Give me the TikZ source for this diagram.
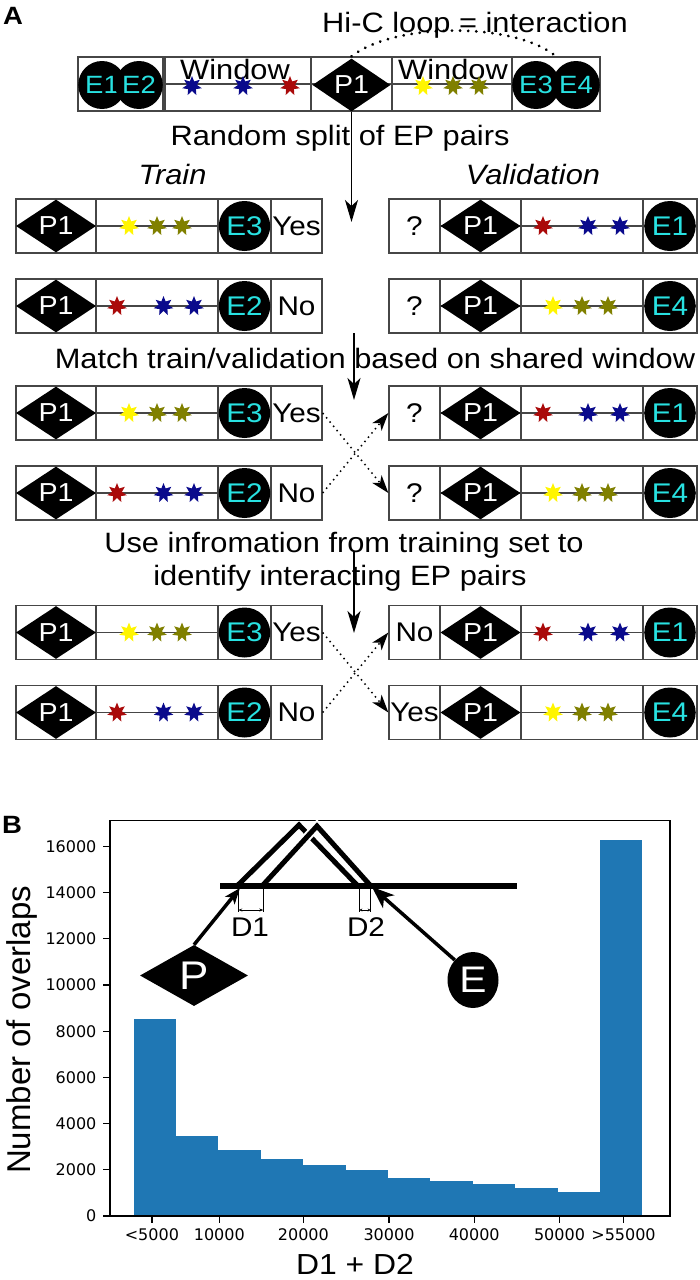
\documentclass[tikz,border=0pt]{standalone}
\usepackage{fontspec}
\setmainfont{Liberation Sans}[FakeStretch=1.1]
\newfontfamily\axisfont{Liberation Sans}
\newfontfamily\tickfont{DejaVu Sans}
\usetikzlibrary{arrows.meta,shapes.geometric}
\definecolor{enhcyan}{RGB}{40,225,225}
\definecolor{staryellow}{RGB}{255,245,0}
\definecolor{starolive}{RGB}{128,128,0}
\definecolor{starnavy}{RGB}{10,10,140}
\definecolor{starred}{RGB}{170,10,10}
\definecolor{histblue}{RGB}{31,119,180}
\definecolor{boxgray}{RGB}{70,70,70}

\begin{document}
\begin{tikzpicture}[x=1pt, y=-1pt, >=Stealth,
    cell/.style={draw=boxgray, line width=1.3pt, minimum height=54pt, inner sep=0pt},
    prom/.style={diamond, fill=black, text=white, inner sep=0pt, minimum width=80pt, minimum height=50pt, font=\fontsize{26}{26}\selectfont},
    enh/.style={ellipse, fill=black, text=enhcyan, inner sep=0pt, minimum width=48pt, minimum height=50pt, font=\fontsize{27}{27}\selectfont},
    snp/.style={star, star points=7, star point ratio=2, fill=#1, inner sep=0pt, minimum size=20pt},
    caption/.style={anchor=base, font=\fontsize{28}{30}\selectfont},
    answer/.style={font=\fontsize{27}{30}\selectfont},
    track/.style={draw=boxgray, line width=1.3pt},
    flow/.style={line width=1.3pt, -{Stealth[length=22pt,width=13pt,inset=6pt]}},
    cross/.style={line width=1.5pt, dash pattern=on 1.5pt off 4pt, -{Stealth[length=18pt,width=12pt,inset=5pt]}},
    tick/.style={font=\tickfont\fontsize{16}{16}\selectfont, inner sep=2pt}]
  \useasboundingbox (0,0) rectangle (699,1280);

  \node[font=\bfseries\fontsize{25}{25}\selectfont] (la) at (13,16) {A};
  \node[caption] (hic) at (475,32) {Hi-C loop = interaction};

  \node[cell, minimum width=85pt] (c1) at (120.5,84) {};
  \node[cell, minimum width=146pt] (c2) at (238,84) {};
  \node[cell, minimum width=81pt] (c3) at (351.5,84) {};
  \node[cell, minimum width=120pt] (c4) at (452,84) {};
  \node[cell, minimum width=88pt] (c5) at (556,84) {};
  \draw[track] (c1.west) -- (c5.east);
  \draw[line width=3pt, line cap=round, dash pattern=on 0.1pt off 8pt] (c3.north) .. controls (395,22) and (515,22) .. (c5.north);
  \node[caption] (w1) at (235,79) {Window};
  \node[caption] (w2) at (453,79) {Window};
  \foreach \x/\c [count=\k] in {192/starnavy,243/starnavy,290/starred,423/staryellow,453/starolive,479/starolive}
    \node[snp=\c] (s\k) at (\x,86) {};
  \node[enh, minimum width=45pt, minimum height=48pt, font=\fontsize{25}{25}\selectfont] (e1) at (102,85) {E1};
  \node[enh, minimum width=45pt, minimum height=48pt, font=\fontsize{25}{25}\selectfont] (e2) at (139,85) {E2};
  \node[enh, minimum width=45pt, minimum height=48pt, font=\fontsize{25}{25}\selectfont] (e3) at (536,85) {E3};
  \node[enh, minimum width=45pt, minimum height=48pt, font=\fontsize{25}{25}\selectfont] (e4) at (576,85) {E4};
  \node[prom, minimum width=78pt] (p0) at (351.5,85) {P1};

  \coordinate (a1) at (351.5,222);
  \draw[flow] (c3.south) -- (a1);
  \node[caption] (split) at (340,145) {Random split of EP pairs};
  \node[caption, font=\fontsize{28}{30}\selectfont\itshape] (train) at (172.5,184) {Train};
  \node[caption, font=\fontsize{28}{30}\selectfont\itshape] (valid) at (533,184) {Validation};

  \foreach \y [count=\r] in {226,413,632.5} {
    \node[cell, minimum width=80pt] (tap\r) at (56,\y) {};
    \node[cell, minimum width=122pt] (taw\r) at (157,\y) {};
    \node[cell, minimum width=53pt] (tae\r) at (244.5,\y) {};
    \node[cell, minimum width=51pt, answer] (tal\r) at (296.5,\y) {Yes};
    \draw[track] (tap\r.west) -- (tae\r.east);
    \node[prom] (tpa\r) at (56,\y) {P1};
    \node[snp=staryellow] (tsa\r) at (129,\y) {};
    \node[snp=starolive] (tsb\r) at (157,\y) {};
    \node[snp=starolive] (tsc\r) at (182,\y) {};
    \node[enh] (tea\r) at (244.5,\y) {E3};
  }
  \foreach \y [count=\r] in {306,493,712.5} {
    \node[cell, minimum width=80pt] (tbp\r) at (56,\y) {};
    \node[cell, minimum width=122pt] (tbw\r) at (157,\y) {};
    \node[cell, minimum width=53pt] (tbe\r) at (244.5,\y) {};
    \node[cell, minimum width=51pt, answer] (tbl\r) at (296.5,\y) {No};
    \draw[track] (tbp\r.west) -- (tbe\r.east);
    \node[prom] (tpb\r) at (56,\y) {P1};
    \node[snp=starred] (tta\r) at (117,\y) {};
    \node[snp=starnavy] (ttb\r) at (163.5,\y) {};
    \node[snp=starnavy] (ttc\r) at (194,\y) {};
    \node[enh] (teb\r) at (244.5,\y) {E2};
  }
  \foreach \y/\v [count=\r] in {226/?,413/?,632.5/No} {
    \node[cell, minimum width=51pt, answer] (val\r) at (414.5,\y) {\v};
    \node[cell, minimum width=81pt] (vap\r) at (480.5,\y) {};
    \node[cell, minimum width=122pt] (vaw\r) at (582,\y) {};
    \node[cell, minimum width=54pt] (vae\r) at (670,\y) {};
    \draw[track] (vap\r.west) -- (vae\r.east);
    \node[prom] (vpa\r) at (480.5,\y) {P1};
    \node[snp=starred] (vsa\r) at (543,\y) {};
    \node[snp=starnavy] (vsb\r) at (588,\y) {};
    \node[snp=starnavy] (vsc\r) at (620,\y) {};
    \node[enh] (vea\r) at (670,\y) {E1};
  }
  \foreach \y/\v [count=\r] in {306/?,493/?,712.5/Yes} {
    \node[cell, minimum width=51pt, answer] (vbl\r) at (414.5,\y) {\v};
    \node[cell, minimum width=81pt] (vbp\r) at (480.5,\y) {};
    \node[cell, minimum width=122pt] (vbw\r) at (582,\y) {};
    \node[cell, minimum width=54pt] (vbe\r) at (670,\y) {};
    \draw[track] (vbp\r.west) -- (vbe\r.east);
    \node[prom] (vpb\r) at (480.5,\y) {P1};
    \node[snp=staryellow] (vta\r) at (553,\y) {};
    \node[snp=starolive] (vtb\r) at (582,\y) {};
    \node[snp=starolive] (vtc\r) at (608,\y) {};
    \node[enh] (veb\r) at (670,\y) {E4};
  }

  \coordinate (m0) at (354,333);
  \coordinate (m1) at (354,400);
  \draw[flow] (m0) -- (m1);
  \node[caption] (match) at (375,368) {Match train/validation based on shared window};
  \draw[cross] (tal2.east) -- (vbl2.west);
  \draw[cross] (tbl2.east) -- (val2.west);

  \coordinate (u0) at (354,551);
  \coordinate (u1) at (354,633);
  \draw[flow] (u0) -- (u1);
  \node[caption] (use1) at (344,552) {Use infromation from training set to};
  \node[caption] (use2) at (340,585) {identify interacting EP pairs};
  \draw[cross] (tal3.east) -- (vbl3.west);
  \draw[cross] (tbl3.east) -- (val3.west);

  \node[font=\bfseries\fontsize{25}{25}\selectfont] (lb) at (12,825) {B};
  \foreach \h [count=\i from 0] in {8515,3476,2843,2454,2222,1991,1659,1500,1371,1198,1053,16277}
    \fill[histblue] ({133.5+42.4*\i},1216) rectangle ({175.9+42.4*\i},{1216-0.0231*\h});
  \draw[line width=1.2pt] (110,820.7) rectangle (670,1216);
  \foreach \v in {0,2000,4000,6000,8000,10000,12000,14000,16000}
    \draw[line width=1.2pt] (110,{1216-0.0231*\v}) -- ++(-7,0) node[tick, anchor=east, xshift=-4pt] (yt\v) {\v};
  \foreach \x/\t [count=\k] in {151.9/{<5000},219.3/10000,303.4/20000,389/30000,474.2/40000,559.5/50000,623.5/{>55000}}
    \draw[line width=1.2pt] (\x,1216) -- ++(0,7) node[tick, anchor=north, yshift=-3pt] (xt\k) {\t};
  \node[rotate=90, font=\axisfont\fontsize{33}{33}\selectfont] (ylab) at (22,1030) {Number of overlaps};
  \node[anchor=base, font=\fontsize{29}{30}\selectfont] (xlab) at (355,1274) {D1 + D2};

  \draw[line width=5pt] (238,885) -- (299,825) -- (357,885);
  \draw[white, line width=9pt] (263,885) -- (317,826) -- (370,885);
  \draw[line width=5pt] (263,885) -- (317,826) -- (370,885);
  \draw[line width=6pt] (220,886) -- (517,886);
  \draw[line width=1.2pt] (238.3,889) -- (238.3,912) (263.3,889) -- (263.3,912);
  \draw[line width=1pt, {Stealth[length=4pt,width=3pt]}-{Stealth[length=4pt,width=3pt]}] (238.3,910) -- (263.3,910);
  \draw[line width=1.2pt] (359.3,889) -- (359.3,912) (370.7,889) -- (370.7,912);
  \draw[line width=1pt, {Stealth[length=3pt,width=3pt]}-{Stealth[length=3pt,width=3pt]}] (359.3,910) -- (370.7,910);
  \node[font=\fontsize{27}{27}\selectfont] (d1) at (250,927.5) {D1};
  \node[font=\fontsize{27}{27}\selectfont] (d2) at (366,927.5) {D2};
  \node[prom, minimum width=108pt, minimum height=61pt, font=\fontsize{40}{40}\selectfont] (pp) at (194,975.5) {P};
  \node[enh, minimum width=51pt, minimum height=56pt, text=white, font=\fontsize{37}{37}\selectfont] (ee) at (473,980) {E};
  \coordinate (pin) at (240,888);
  \coordinate (ein) at (372,887);
  \draw[line width=3.5pt, -{Stealth[length=16pt,width=12pt,inset=4pt]}] (pp.north) -- (pin);
  \draw[line width=3.5pt, -{Stealth[length=22pt,width=17pt,inset=6pt]}] (ee.north west) -- (ein);
\end{tikzpicture}
\end{document}
